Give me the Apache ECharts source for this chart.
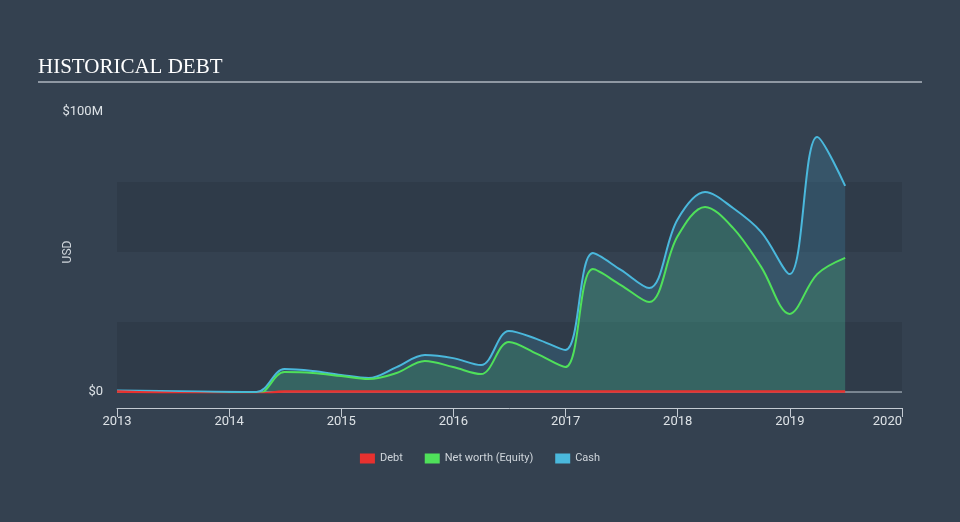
<!DOCTYPE html>
<html>
<head>
<meta charset="utf-8">
<script src="https://cdn.jsdelivr.net/npm/echarts@6/dist/echarts.min.js"></script>
<style>
html,body{margin:0;padding:0;background:#344150;}
#c{width:960px;height:522px;}
</style>
</head>
<body>
<div id="c"></div>
<script>
const dates = ['2013-01-01','2014-03-31','2014-06-30','2014-09-30','2014-12-31','2015-03-31','2015-06-30','2015-09-30','2015-12-31','2016-03-31','2016-06-30','2016-09-30','2016-12-31','2017-03-31','2017-06-30','2017-09-30','2017-12-31','2018-03-31','2018-06-30','2018-09-30','2018-12-31','2019-03-31','2019-06-30'];
const debt   = [0.2,-0.8,0.2,0.2,0.2,0.2,0.2,0.2,0.2,0.2,0.2,0.2,0.2,0.2,0.2,0.2,0.2,0.2,0.2,0.2,0.2,0.2,0.2];
const equity = [-0.6,-1.0,7.1,6.8,5.7,4.6,6.8,11.1,8.9,6.4,17.9,13.6,8.9,43.9,38.2,32.1,55.5,66.1,58.6,44.6,27.9,42.1,47.9];
const cash   = [0.5,0.0,8.2,7.5,6.1,5.0,8.9,13.2,12.1,9.6,21.8,18.9,15.0,49.6,43.6,37.1,61.5,71.4,65.7,57.1,42.1,91.1,73.6];
const xTickYears = [2013,2014,2015,2016,2017,2018,2019,2020];
const yTickLabels = {0:'$0', 100:'$100M'};

const M = 1e6;
function decYear(s){
  const [y,m,d] = s.split('-').map(Number);
  const start = Date.UTC(y,0,1), end = Date.UTC(y+1,0,1);
  return y + (Date.UTC(y,m-1,d) - start)/(end-start);
}
const pair = arr => dates.map((d,i)=>[decYear(d), arr[i]*M]);
const FONT = 'Roboto, "DejaVu Sans", sans-serif';

const chart = echarts.init(document.getElementById('c'));
chart.setOption({
  backgroundColor: '#344150',
  animation: false,
  graphic: [
    {type:'text', left:38, top:57, style:{text:'HISTORICAL DEBT', fill:'#ffffff', font:'21px "Liberation Serif", "DejaVu Serif", serif'}},
    {type:'line', shape:{x1:38, y1:82, x2:922, y2:82}, style:{stroke:'#aeb6bf', lineWidth:1.5}}
  ],
  grid: {left:117, right:58, top:112, bottom:130},
  legend: {
    bottom: 53, left: 'center',
    itemWidth: 15, itemHeight: 10, itemGap: 22,
    icon: 'rect',
    textStyle: {color:'#cfd5db', fontSize:11, fontFamily:FONT},
    data: ['Debt','Net worth (Equity)','Cash']
  },
  xAxis: {
    type: 'value',
    min: xTickYears[0], max: xTickYears[xTickYears.length-1], interval: 1,
    offset: 16,
    axisLine: {show:true, onZero:false, lineStyle:{color:'#c3cad2', width:1}},
    axisTick: {show:true, length:9, lineStyle:{color:'#c3cad2'}},
    splitLine: {show:false},
    axisLabel: {color:'#dde2e6', fontSize:13, margin:7, showMaxLabel:true, showMinLabel:true,
      alignMaxLabel:'right', alignMinLabel:'center', fontFamily:FONT,
      formatter: v => xTickYears.includes(Math.round(v)) ? String(Math.round(v)) : ''}
  },
  yAxis: {
    type: 'value',
    min: 0, max: 100*M, interval: 25*M,
    name: 'USD', nameLocation: 'middle', nameGap: 43, nameRotate: 90, nameMoveOverlap: false,
    nameTextStyle: {color:'#cfd5db', fontSize:12, fontFamily:FONT},
    axisLine: {show:false}, axisTick: {show:false},
    splitLine: {show:false},
    splitArea: {show:true, areaStyle:{color:['#2f3b49','rgba(0,0,0,0)']}},
    axisLabel: {color:'#dde2e6', fontSize:13, margin:14, fontFamily:FONT,
      formatter: v => { const k = Math.round(v/M); return yTickLabels[k] !== undefined ? yTickLabels[k] : ''; }}
  },
  series: [
    {
      name: 'Cash', type: 'line', data: pair(cash), smooth: 0.35, symbol: 'none', z: 2,
      lineStyle: {color:'#4ab8dc', width:2}, itemStyle:{color:'#4ab8dc'},
      areaStyle: {color:'rgba(71,184,224,0.25)'}
    },
    {
      name: 'Net worth (Equity)', type: 'line', data: pair(equity), smooth: 0.35, symbol: 'none', z: 3,
      lineStyle: {color:'#4fe05a', width:2}, itemStyle:{color:'#4fe05a'},
      areaStyle: {color:'rgba(76,226,94,0.2)'}
    },
    {
      name: 'Debt', type: 'line', data: pair(debt), smooth: 0.35, symbol: 'none', z: 4,
      lineStyle: {color:'#e8312f', width:2.5}, itemStyle:{color:'#e8312f'},
      markLine: {silent:true, symbol:'none', label:{show:false}, lineStyle:{color:'#aab4be', width:1.5, type:'solid', opacity:0.8}, data:[{yAxis:0}], z:1}
    }
  ]
});
</script>
</body>
</html>
